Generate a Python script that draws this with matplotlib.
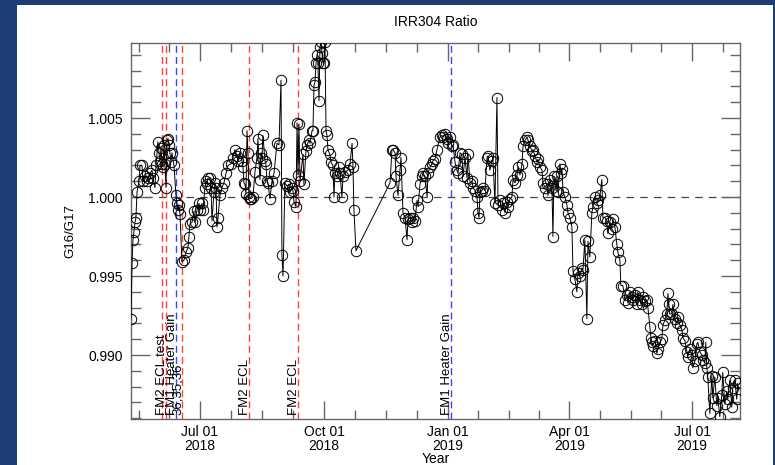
import numpy as np
import pandas as pd
import matplotlib
matplotlib.use('Agg')
import matplotlib.pyplot as plt
import matplotlib.dates as mdates
import matplotlib.transforms as mtransforms
from matplotlib.patches import Rectangle

# Day of year 2018 (0 = 2018-01-01) and G16/G17 ratio
DAYS = [
    129.8, 130.6, 131.3, 132.0, 132.8, 133.5, 134.3, 135.7, 136.5, 138.0, 138.7, 140.2, 141.7, 142.4,
    143.9, 145.4, 146.1, 147.6, 148.4, 149.8, 150.6, 151.3, 152.1, 152.8, 153.6, 154.3, 155.0, 155.8,
    156.5, 157.3, 158.0, 158.7, 159.5, 160.2, 161.7, 163.2, 163.9, 164.7, 165.4, 166.2, 167.6, 169.1,
    170.6, 172.1, 172.8, 173.6, 175.1, 176.5, 177.3, 178.8, 180.3, 181.0, 182.5, 183.2, 184.7, 185.5,
    186.2, 186.9, 188.4, 189.2, 189.9, 191.4, 192.1, 192.9, 193.6, 194.4, 195.8, 197.3, 198.8, 200.3,
    201.8, 204.0, 205.5, 207.0, 208.4, 209.2, 210.7, 212.2, 212.9, 213.6, 214.4, 215.1, 215.9, 216.6,
    217.3, 218.1, 218.8, 220.3, 221.8, 223.3, 224.0, 225.5, 226.2, 227.0, 227.7, 229.2, 229.9, 230.7,
    231.4, 232.9, 234.4, 235.9, 238.1, 239.6, 241.1, 241.8, 242.6, 244.0, 245.5, 247.0, 247.8, 249.2,
    250.0, 250.7, 252.2, 253.0, 253.7, 254.4, 255.2, 257.4, 258.1, 259.6, 260.4, 261.9, 262.6, 264.1,
    264.8, 265.6, 266.3, 267.1, 267.8, 268.5, 269.3, 270.0, 270.8, 271.5, 272.2, 273.0, 273.7, 274.5,
    275.2, 275.9, 277.4, 278.2, 279.6, 280.4, 281.1, 282.6, 284.1, 284.9, 286.3, 287.1, 288.6, 290.8,
    292.3, 293.8, 294.5, 295.2, 296.7,
    322.0, 323.4, 324.2, 325.7, 326.4, 327.9, 329.4, 330.1, 331.6, 333.1, 334.6, 335.3, 336.8, 338.3,
    339.1, 340.5, 342.0, 342.8, 344.2, 345.7, 346.4, 348.0, 349.5, 350.1, 351.6, 353.1, 353.8, 355.3,
    356.8, 359.0, 360.5, 361.3, 362.7, 364.2, 365.0, 366.5, 367.9, 368.7, 370.2, 371.6, 372.4, 373.9,
    375.3, 376.1, 377.6, 379.1, 379.8, 381.3, 382.8, 383.5, 385.0, 386.5, 387.2, 388.0, 388.7, 390.2,
    391.0, 392.4, 393.9, 394.6, 396.1, 397.6, 398.3, 399.8, 401.3, 402.1, 403.5, 405.0, 405.8, 407.3,
    408.7, 409.5, 411.0, 412.4, 413.2, 414.7, 416.2, 416.9, 418.4, 419.9, 420.6, 422.1, 423.6, 424.3,
    425.8, 427.3, 428.0, 429.5, 431.0, 431.7, 433.2, 434.7, 435.4, 436.9, 438.4, 439.1, 440.6, 442.1,
    442.8, 443.6, 445.1, 445.8, 446.6, 448.0, 448.8, 449.5, 450.3, 451.7, 453.2, 454.0, 455.4, 456.9,
    457.7, 459.1, 460.6, 461.4, 462.8, 464.3, 465.1, 466.5, 468.0, 468.8, 470.2, 471.7, 472.5, 473.9,
    475.4, 476.2, 477.7, 479.1, 479.9, 481.4, 482.8, 483.6, 485.1, 486.5, 487.3, 488.8, 490.2, 491.0,
    492.5, 493.2, 494.7, 496.2, 497.7, 498.4, 499.9, 501.4, 502.1, 503.6, 505.1, 505.8, 507.3, 508.8,
    509.5, 511.0, 512.5, 513.3, 514.7, 515.5, 516.2, 517.0, 518.4, 519.9, 520.7, 522.1, 523.6, 524.4,
    525.8, 527.3, 528.1, 528.8, 529.5, 531.0, 531.8, 533.3, 534.7, 535.5, 537.0, 538.5, 539.2, 540.7,
    542.2, 542.9, 544.4, 545.9, 546.6, 548.1, 549.6, 550.3, 551.8, 553.3, 554.0, 555.5, 556.2, 557.0,
    557.7, 559.2, 560.7, 561.4, 562.9, 564.4, 565.1, 566.6, 568.1, 568.8, 570.3, 571.8, 572.5, 574.0,
    575.5, 576.2, 577.7, 579.2, 579.9,
]
RATIO = [
    0.9923, 0.9958, 0.9973, 0.9978, 0.9984, 0.9987, 1.0003, 1.0010, 1.0020, 1.0020, 1.0010, 1.0013, 1.0010, 1.0012,
    1.0015, 1.0017, 1.0012, 1.0006, 1.0020, 1.0035, 1.0028, 1.0023, 1.0031, 1.0021, 1.0019, 1.0033, 1.0021, 1.0006,
    1.0036, 1.0037, 1.0033, 1.0028, 1.0022, 1.0028, 1.0020, 1.0001, 0.9996, 0.9992, 0.9995, 0.9989, 0.9959, 0.9960,
    0.9965, 0.9968, 0.9975, 0.9983, 0.9984, 0.9991, 0.9984, 0.9992, 0.9996, 0.9992, 0.9996, 0.9992, 1.0006, 1.0010,
    1.0008, 1.0012, 1.0012, 1.0006, 0.9985, 1.0003, 1.0009, 1.0006, 0.9981, 0.9987, 1.0001, 1.0006, 1.0009, 1.0015,
    1.0020, 1.0021, 1.0025, 1.0030, 1.0026, 1.0023, 1.0028, 1.0023, 1.0019, 1.0009, 1.0008, 1.0002, 1.0042, 1.0028,
    1.0000, 0.9999, 0.9999, 1.0000, 1.0016, 1.0025, 1.0037, 1.0011, 1.0028, 1.0025, 1.0039, 1.0023, 1.0021, 1.0010,
    1.0009, 0.9999, 1.0010, 1.0015, 1.0034, 1.0033, 1.0074, 0.9963, 0.9950, 1.0009, 1.0007, 1.0008, 1.0003, 1.0006,
    1.0004, 0.9997, 0.9994, 1.0047, 1.0014, 1.0046, 1.0010, 1.0027, 1.0008, 1.0029, 1.0033, 1.0036, 1.0034, 1.0042,
    1.0042, 1.0071, 1.0073, 1.0085, 1.0090, 1.0085, 1.0061, 1.0095, 1.0098, 1.0091, 1.0085, 1.0085, 1.0098, 1.0042,
    1.0039, 1.0030, 1.0027, 1.0022, 1.0020, 1.0000, 1.0015, 1.0013, 1.0019, 1.0015, 1.0000, 1.0013, 1.0016, 1.0017,
    1.0021, 1.0034, 1.0019, 0.9992, 0.9966,
    1.0009, 1.0030, 1.0030, 1.0028, 1.0013, 1.0001, 1.0017, 1.0025, 0.9990, 0.9987, 0.9973, 0.9986, 0.9987, 0.9984,
    0.9987, 0.9985, 0.9998, 0.9994, 1.0008, 1.0013, 1.0015, 1.0013, 1.0000, 1.0015, 1.0019, 1.0021, 1.0023, 1.0024,
    1.0030, 1.0038, 1.0039, 1.0038, 1.0040, 1.0037, 1.0034, 1.0038, 1.0032, 1.0033, 1.0022, 1.0017, 1.0015, 1.0028,
    1.0027, 1.0013, 1.0025, 1.0012, 1.0027, 1.0009, 1.0010, 1.0006, 1.0004, 1.0000, 0.9990, 0.9987, 1.0003, 1.0004,
    1.0006, 1.0004, 1.0025, 1.0026, 1.0017, 1.0023, 1.0025, 0.9996, 1.0063, 0.9995, 0.9998, 0.9992, 0.9996, 0.9990,
    0.9997, 0.9994, 0.9999, 1.0000, 1.0011, 1.0009, 1.0014, 1.0019, 1.0014, 1.0021, 1.0032, 1.0036, 1.0038, 1.0036,
    1.0032, 1.0029, 1.0030, 1.0026, 1.0022, 1.0024, 1.0019, 1.0017, 1.0009, 1.0006, 1.0008, 1.0001, 1.0011, 1.0006,
    0.9975, 1.0013, 1.0004, 1.0013, 1.0003, 1.0021, 1.0015, 1.0018, 1.0003, 1.0000, 0.9995, 0.9990, 0.9987, 0.9981,
    0.9953, 0.9948, 0.9940, 0.9952, 0.9950, 0.9955, 0.9954, 0.9973, 0.9923, 0.9972, 0.9962, 0.9990, 0.9994, 1.0000,
    0.9996, 0.9998, 1.0001, 1.0011, 0.9987, 0.9987, 0.9985, 0.9977, 0.9984, 0.9980, 0.9986, 0.9981, 0.9970, 0.9965,
    0.9960, 0.9944, 0.9944, 0.9935, 0.9938, 0.9933, 0.9940, 0.9937, 0.9935, 0.9938, 0.9932, 0.9940, 0.9935, 0.9932,
    0.9937, 0.9934, 0.9935, 0.9930, 0.9918, 0.9911, 0.9908, 0.9906, 0.9909, 0.9901, 0.9904, 0.9908, 0.9910, 0.9919,
    0.9922, 0.9926, 0.9939, 0.9932, 0.9926, 0.9926, 0.9932, 0.9923, 0.9920, 0.9924, 0.9919, 0.9916, 0.9911, 0.9909,
    0.9902, 0.9899, 0.9904, 0.9900, 0.9892, 0.9896, 0.9907, 0.9908, 0.9902, 0.9900, 0.9897, 0.9895, 0.9908, 0.9892,
    0.9886, 0.9863, 0.9887, 0.9873, 0.9886, 0.9868, 0.9873, 0.9861, 0.9875, 0.9889, 0.9869, 0.9877, 0.9872, 0.9884,
    0.9867, 0.9879, 0.9884, 0.9872, 0.9882,
]

# Event markers: (date, colour, label)
EVENT_DATES = ['2018-06-03', '2018-06-06', '2018-06-13', '2018-06-18', '2018-08-06', '2018-09-12', '2019-01-03']
EVENT_COLORS = ['red', 'red', 'blue', 'red', 'red', 'red', 'blue']
EVENT_LABELS = ['', 'FM2 ECL test', 'FM1 Heater Gain', '36,35,36', 'FM2 ECL', 'FM2 ECL', 'FM1 Heater Gain']

MAJOR_TICKS = ['2018-07-01', '2018-10-01', '2019-01-01', '2019-04-01', '2019-07-01']
MAJOR_LABELS = ['Jul 01\n2018', 'Oct 01\n2018', 'Jan 01\n2019', 'Apr 01\n2019', 'Jul 01\n2019']
QUARTER_EDGES = ['2018-04-01', '2018-07-01', '2018-10-01', '2019-01-01', '2019-04-01', '2019-07-01', '2019-10-01']

X_START, X_END = '2018-05-10 20:00', '2019-08-05 14:00'
Y_MIN, Y_MAX = 0.98595, 1.00975

plt.rcParams['font.family'] = ['Liberation Sans', 'DejaVu Sans']

dates = pd.Timestamp('2018-01-01') + pd.to_timedelta(np.array(DAYS), unit='D')
x_lo, x_hi = pd.Timestamp(X_START), pd.Timestamp(X_END)

fig = plt.figure(figsize=(7.75, 4.65), dpi=100, facecolor='#1c3e74')
# white slide panel
fig.patches.append(Rectangle((17 / 775, 0), (773 - 17) / 775, 1 - 5 / 465,
                             transform=fig.transFigure, facecolor='white',
                             edgecolor='none', zorder=-10))

ax = fig.add_axes([131 / 775, 1 - 419 / 465, (740 - 131) / 775, (419 - 43) / 465])

# reference line at 1.0
ax.axhline(1.0, color='#444444', linestyle=(0, (6, 5)), linewidth=0.9, zorder=1)

# event lines + labels
tr = mtransforms.blended_transform_factory(ax.transData, ax.transAxes)
tr = tr + mtransforms.ScaledTranslation(2 / 100, 0, fig.dpi_scale_trans)
for d, c, lab in zip(EVENT_DATES, EVENT_COLORS, EVENT_LABELS):
    xd = pd.Timestamp(d)
    ax.axvline(xd, color=c, linestyle=(0, (5, 3)), linewidth=1.0, alpha=0.75, zorder=2)
    if lab:
        ax.text(xd, 0.01, lab, rotation=90, ha='right', va='bottom',
                fontsize=9.5, color='black', transform=tr, zorder=3)

# data
ax.plot(dates, RATIO, '-', color='black', linewidth=0.7, marker='o', markersize=7.5,
        markerfacecolor='none', markeredgecolor='black', markeredgewidth=0.7, zorder=4)

# x ticks: majors each quarter, 4 minor divisions per quarter
edges = [pd.Timestamp(e) for e in QUARTER_EDGES]
minors = []
for a, b in zip(edges[:-1], edges[1:]):
    for k in range(1, 4):
        m = a + (b - a) * k / 4
        if x_lo <= m <= x_hi:
            minors.append(m)
ax.set_xticks([pd.Timestamp(t) for t in MAJOR_TICKS])
ax.set_xticklabels(MAJOR_LABELS, fontsize=10, linespacing=1.0)
ax.set_xticks(minors, minor=True)

ax.set_yticks([0.990, 0.995, 1.000, 1.005])
ax.set_yticklabels(['0.990', '0.995', '1.000', '1.005'], fontsize=10)
ax.set_yticks(np.arange(0.986, 1.0095, 0.001), minor=True)

# limits last so the tick calls cannot widen them
ax.set_xlim(x_lo, x_hi)
ax.set_ylim(Y_MIN, Y_MAX)

frame_col = '#666666'
for s in ax.spines.values():
    s.set_color(frame_col)
    s.set_linewidth(1.0)
ax.tick_params(axis='x', which='major', direction='in', length=13, width=1.0,
               top=True, color=frame_col, pad=4)
ax.tick_params(axis='x', which='minor', direction='in', length=6.5, width=1.0,
               top=True, color=frame_col)
ax.tick_params(axis='y', which='major', direction='in', length=14, width=1.0,
               right=True, color=frame_col, pad=6)
ax.tick_params(axis='y', which='minor', direction='in', length=7, width=1.0,
               right=True, color=frame_col)

ax.set_ylabel('G16/G17', fontsize=9.5)
ax.yaxis.set_label_coords(-0.089, 0.5)
ax.set_xlabel('Year', fontsize=10)
ax.xaxis.set_label_coords(0.5, -0.087)

fig.text((131 + 740) / 2 / 775, 1 - 22 / 465, 'IRR304 Ratio', ha='center', va='center', fontsize=10)

plt.savefig('out.png', dpi=100, facecolor=fig.get_facecolor())
